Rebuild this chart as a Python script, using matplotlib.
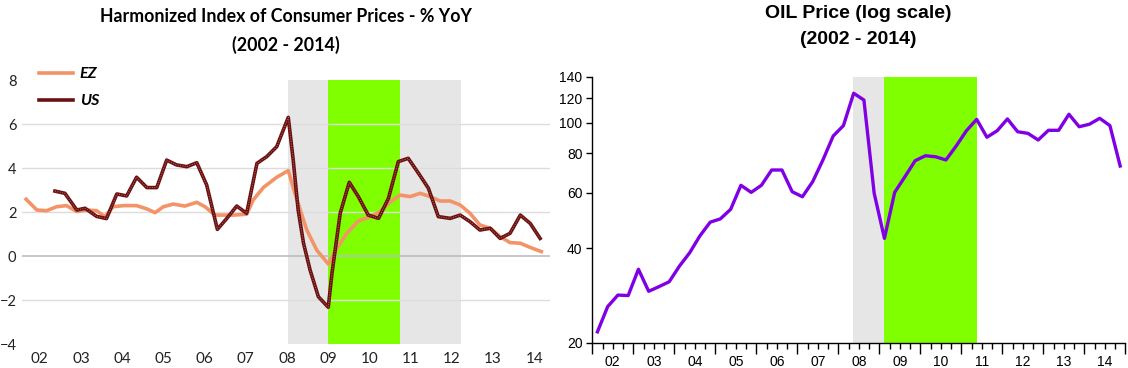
import matplotlib
matplotlib.use('Agg')
import matplotlib.pyplot as plt
import matplotlib.ticker as mticker
from matplotlib.lines import Line2D
import pandas as pd

# ---------------- data ----------------
year_labels = ['02', '03', '04', '05', '06', '07', '08', '09', '10', '11', '12', '13', '14']
years = list(range(2002, 2015))

ez_t = [2002.17, 2002.43, 2002.67, 2002.91, 2003.15, 2003.40, 2003.64, 2003.88, 2004.08, 2004.28,
        2004.53, 2004.85, 2005.10, 2005.30, 2005.50, 2005.74, 2006.02, 2006.31, 2006.51, 2006.75,
        2006.95, 2007.20, 2007.52, 2007.68, 2007.93, 2008.25, 2008.53, 2008.74, 2008.98, 2009.22,
        2009.50, 2009.71, 2009.95, 2010.23, 2010.52, 2010.76, 2010.96, 2011.24, 2011.49, 2011.73,
        2011.97, 2012.21, 2012.46, 2012.70, 2012.94, 2013.18, 2013.43, 2013.67, 2013.91, 2014.16,
        2014.40, 2014.67]
ez_v = [2.58, 2.09, 2.06, 2.24, 2.29, 2.02, 2.09, 2.06, 1.79, 2.24,
        2.29, 2.29, 2.14, 1.97, 2.24, 2.36, 2.27, 2.44, 2.24, 1.86,
        1.86, 1.86, 1.90, 2.55, 3.12, 3.58, 3.88, 2.55, 1.18, 0.27,
        -0.36, 0.35, 1.03, 1.59, 1.79, 2.02, 2.39, 2.77, 2.70, 2.85,
        2.70, 2.50, 2.50, 2.32, 1.94, 1.41, 1.26, 0.88, 0.61, 0.58,
        0.39, 0.20]

us_t = [2002.87, 2003.11, 2003.40, 2003.60, 2003.88, 2004.12, 2004.37, 2004.61, 2004.85, 2005.10,
        2005.34, 2005.58, 2005.82, 2006.07, 2006.31, 2006.55, 2006.81, 2007.04, 2007.28, 2007.52,
        2007.77, 2008.01, 2008.25, 2008.53, 2008.65, 2008.77, 2008.90, 2009.06, 2009.26, 2009.50,
        2009.59, 2009.79, 2010.01, 2010.23, 2010.47, 2010.72, 2010.96, 2011.20, 2011.44, 2011.69,
        2011.93, 2012.17, 2012.46, 2012.70, 2012.94, 2013.18, 2013.43, 2013.67, 2013.91, 2014.16,
        2014.40, 2014.64]
us_v = [2.95, 2.85, 2.09, 2.17, 1.80, 1.70, 2.82, 2.73, 3.58, 3.11,
        3.11, 4.36, 4.14, 4.06, 4.24, 3.23, 1.21, 1.71, 2.27, 1.94,
        4.21, 4.52, 4.97, 6.30, 4.36, 2.09, 0.58, -0.64, -1.85, -2.33,
        -0.79, 1.94, 3.35, 2.70, 1.86, 1.71, 2.62, 4.29, 4.44, 3.76,
        3.08, 1.79, 1.71, 1.86, 1.56, 1.18, 1.26, 0.80, 1.03, 1.86,
        1.48, 0.80]

oil_quarters = pd.period_range('2002Q1', '2014Q4', freq='Q')
oil_v = [21.7, 26.1, 28.4, 28.3, 34.3, 29.2, 30.2, 31.3, 35.1, 38.7, 43.8, 48.4,
         49.6, 53.2, 63.4, 60.2, 63.4, 70.9, 70.9, 60.5, 58.3, 65.1, 76.3, 90.9,
         98.1, 124.3, 118.3, 59.8, 43.0, 60.2, 67.5, 75.9, 78.7, 78.1, 76.3, 84.5,
         94.5, 102.7, 90.1, 94.5, 103.0, 93.8, 92.7, 88.3, 94.8, 94.8, 106.6, 97.3,
         99.1, 103.5, 98.1, 73.0]
oil_t = [p.year + (p.quarter - 1) * 0.25 + 0.125 for p in oil_quarters]

# ---------------- figure ----------------
W, H = 1128, 368
fig = plt.figure(figsize=(W / 100, H / 100), dpi=100)


def rect(x0, y0, x1, y1):
    return [x0 / W, 1 - y1 / H, (x1 - x0) / W, (y1 - y0) / H]


LEFT_FONT = ['Lato', 'DejaVu Sans']
RIGHT_FONT = ['Liberation Sans', 'DejaVu Sans']

# ---------- left panel: HICP ----------
ax1 = fig.add_axes(rect(22, 80, 550, 344))
ax1.set_xlim(2002.07, 2014.88)
ax1.set_ylim(-4, 8)
ax1.axvspan(2008.52, 2012.72, color='#E6E6E6', lw=0, zorder=0)
ax1.axvspan(2009.50, 2011.24, color='#80FF00', lw=0, zorder=0.5)
for v in [6, 4, 2, -2]:
    ax1.axhline(v, color='#DCDCDC', lw=1.0, zorder=1)
ax1.axhline(0, color='#BDBDBD', lw=1.2, zorder=1)
ax1.plot(ez_t, ez_v, color='#F29468', lw=2.6, zorder=3, solid_joinstyle='round')
ax1.plot(us_t, us_v, color='#6A1010', lw=2.6, zorder=4, solid_joinstyle='round')
ax1.plot(us_t, us_v, color='#B36B6B', lw=0.7, zorder=4.5, ls=(0, (1, 1.5)))
for s in ax1.spines.values():
    s.set_visible(False)
ax1.set_yticks([-4, -2, 0, 2, 4, 6, 8])
ax1.set_xticks([y + 0.5 for y in years])
ax1.set_xticklabels(year_labels)
ax1.tick_params(length=0, labelsize=11, colors='#222222')
ax1.tick_params(axis='y', pad=4, labelsize=10.5)
ax1.tick_params(axis='x', pad=6)
for lab in ax1.get_xticklabels() + ax1.get_yticklabels():
    lab.set_family(LEFT_FONT)

handles = [Line2D([], [], color='#F29468', lw=2.6),
           Line2D([], [], color='#6A1010', lw=2.6)]
leg = ax1.legend(handles, ['EZ', 'US'], loc='upper left',
                 bbox_to_anchor=(17 / 528, 1 + 13 / 264), frameon=False,
                 borderpad=0, borderaxespad=0, handlelength=2.1, handletextpad=0.45,
                 labelspacing=0.8,
                 prop={'family': LEFT_FONT, 'weight': 'bold', 'style': 'italic', 'size': 11.5})

fig.text(286 / W, 1 - 16 / H, 'Harmonized Index of Consumer Prices - % YoY',
         ha='center', va='center', fontsize=12.8, fontweight='bold', family=LEFT_FONT)
fig.text(286 / W, 1 - 45 / H, '(2002 - 2014)',
         ha='center', va='center', fontsize=12.8, fontweight='bold', family=LEFT_FONT)

# ---------- right panel: oil ----------
ax2 = fig.add_axes(rect(592.3, 77, 1125.3, 343))
ax2.set_yscale('log')
ax2.set_ylim(20, 140)
ax2.set_xlim(2002.0, 2015.0)
ax2.axvspan(2008.36, 2009.11, color='#E6E6E6', lw=0, zorder=0)
ax2.axvspan(2009.11, 2011.38, color='#80FF00', lw=0, zorder=0.5)
ax2.plot(oil_t, oil_v, color='#8000E6', lw=2.4, zorder=3)
ax2.spines['top'].set_visible(False)
ax2.spines['right'].set_visible(False)
ax2.spines['left'].set_linewidth(1.0)
ax2.spines['bottom'].set_linewidth(1.0)
ax2.yaxis.set_major_locator(mticker.FixedLocator([20, 40, 60, 80, 100, 120, 140]))
ax2.yaxis.set_major_formatter(mticker.FuncFormatter(lambda v, p: f'{v:.0f}'))
ax2.yaxis.set_minor_locator(mticker.NullLocator())
ax2.tick_params(axis='y', length=4, width=1, labelsize=10, pad=3, direction='out')

ax2.xaxis.set_major_locator(mticker.FixedLocator(list(range(2002, 2016))))
ax2.xaxis.set_major_formatter(mticker.NullFormatter())
minor_pos = []
minor_lab = []
for y, lab in zip(years, year_labels):
    for k, q in enumerate([0.25, 0.5, 0.75]):
        minor_pos.append(y + q)
        minor_lab.append(lab if k == 1 else '')
ax2.xaxis.set_minor_locator(mticker.FixedLocator(minor_pos))
ax2.xaxis.set_minor_formatter(mticker.FixedFormatter(minor_lab))
ax2.tick_params(axis='x', which='major', length=8, width=1, direction='out')
ax2.tick_params(axis='x', which='minor', length=4.5, width=1, direction='out',
                labelsize=10, pad=4)
for lab in ax2.get_yticklabels() + ax2.get_xticklabels(minor=True):
    lab.set_family(RIGHT_FONT)

fig.text(858 / W, 1 - 14 / H, 'OIL Price (log scale)', ha='center', va='center',
         fontsize=14, fontweight='bold', family=RIGHT_FONT)
fig.text(858 / W, 1 - 40 / H, '(2002 - 2014)', ha='center', va='center',
         fontsize=14, fontweight='bold', family=RIGHT_FONT)

fig.savefig('out.png', dpi=100)
